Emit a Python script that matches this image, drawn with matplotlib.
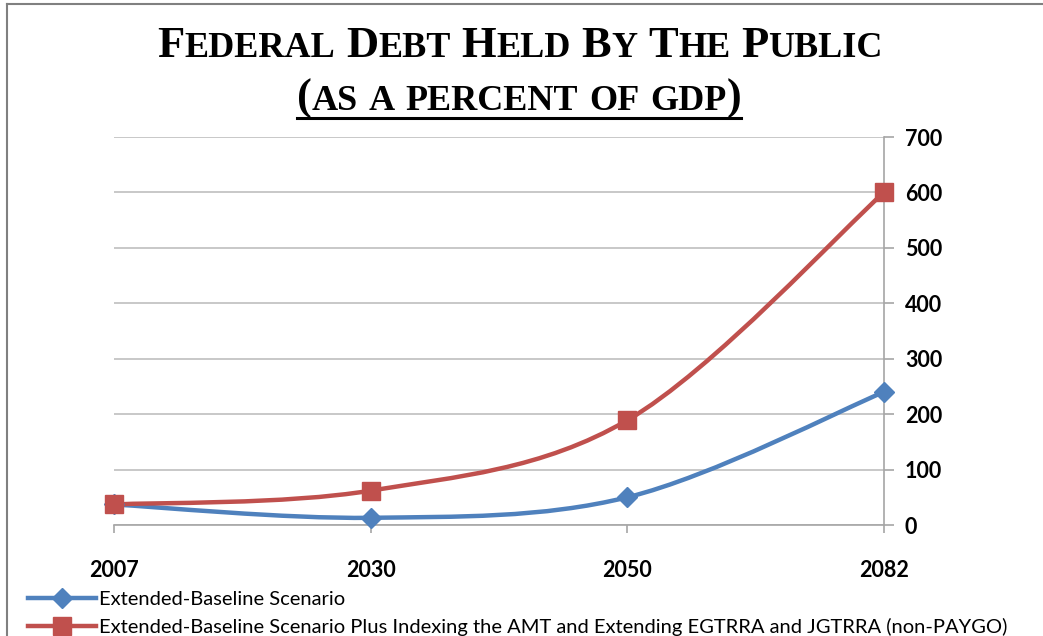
import matplotlib
matplotlib.use("Agg")
import matplotlib.pyplot as plt
from matplotlib.path import Path
from matplotlib.patches import PathPatch
from matplotlib.lines import Line2D

# ---- data ----
years = ["2007", "2030", "2050", "2082"]
baseline = [37, 13, 50, 240]
alternative = [37, 62, 189, 600]
series_names = [
    "Extended-Baseline Scenario",
    "Extended-Baseline Scenario Plus Indexing the AMT and Extending EGTRRA and JGTRRA (non-PAYGO)",
]
yticks = [0, 100, 200, 300, 400, 500, 600, 700]

BLUE = "#4F81BD"
RED = "#C0504D"
GRID = "#BFBFBF"
SANS = ["Lato", "DejaVu Sans"]
SERIF = ["Liberation Serif", "DejaVu Serif"]

fig = plt.figure(figsize=(10.43, 6.36), dpi=100)
W, H = 1043, 636
ax = fig.add_axes([114 / W, 1 - 525 / H, (884 - 114) / W, (525 - 137) / H])

x = list(range(len(years)))


def smooth_path(xs, ys):
    """Excel-like smoothed line as cubic Bezier segments (Catmull-Rom)."""
    n = len(xs)
    pts = list(zip(xs, ys))
    verts = [pts[0]]
    codes = [Path.MOVETO]
    for i in range(n - 1):
        p0 = pts[i - 1] if i > 0 else pts[i]
        p1 = pts[i]
        p2 = pts[i + 1]
        p3 = pts[i + 2] if i + 2 < n else pts[i + 1]
        c1 = (p1[0] + (p2[0] - p0[0]) / 6, p1[1] + (p2[1] - p0[1]) / 6)
        c2 = (p2[0] - (p3[0] - p1[0]) / 6, p2[1] - (p3[1] - p1[1]) / 6)
        verts += [c1, c2, p2]
        codes += [Path.CURVE4] * 3
    return Path(verts, codes)


for vals, col, mk, ms in [(baseline, BLUE, "D", 10), (alternative, RED, "s", 13)]:
    ax.add_patch(PathPatch(smooth_path(x, vals), fill=False, edgecolor=col,
                           lw=3.2, capstyle="round", joinstyle="round",
                           clip_on=False, zorder=3))
    ax.plot(x, vals, linestyle="none", marker=mk, ms=ms, color=col,
            markeredgecolor=col, clip_on=False, zorder=4)

ax.set_xlim(0, 3)
ax.set_ylim(0, 700)
ax.set_yticks(yticks)
ax.set_xticks(x)
ax.set_xticklabels(years)

for s in ["left", "top"]:
    ax.spines[s].set_visible(False)
for s in ["right", "bottom"]:
    ax.spines[s].set_color("#A6A6A6")
    ax.spines[s].set_linewidth(1.2)

ax.yaxis.tick_right()
ax.grid(axis="y", color=GRID, lw=1.2)
ax.set_axisbelow(True)
ax.tick_params(axis="y", direction="out", length=7, width=1.2, color="#A6A6A6",
               pad=8, labelsize=15.5)
ax.tick_params(axis="x", direction="out", length=6, width=1.2, color="#A6A6A6",
               pad=19, labelsize=15.5)
for lab in ax.get_xticklabels() + ax.get_yticklabels():
    lab.set_family(SANS)
    lab.set_fontweight("bold")

# ---- legend ----
handles = [
    Line2D([], [], color=BLUE, lw=3.2, marker="D", ms=10),
    Line2D([], [], color=RED, lw=3.2, marker="s", ms=13),
]
leg = fig.legend(handles, series_names, loc="upper left",
                 bbox_to_anchor=(28 / W, 1 - 591 / H),
                 frameon=False, handlelength=3.4, handletextpad=0.15,
                 labelspacing=0.48, borderpad=0, borderaxespad=0,
                 prop={"family": SANS, "size": 14.5})

# ---- frame lines ----
fig.add_artist(Line2D([7 / W, 1], [1 - 4 / H, 1 - 4 / H], color="#808080", lw=1.5))
fig.add_artist(Line2D([7 / W, 7 / W], [0, 1 - 4 / H], color="#808080", lw=1.5))

# ---- small caps title ----
renderer = fig.canvas.get_renderer()


def smallcaps(parts, xc, yb, gap_px):
    objs = []
    total = 0
    for s, sz in parts:
        if s == " ":
            objs.append((None, gap_px))
            total += gap_px
            continue
        t = fig.text(0, yb, s, fontsize=sz, family=SERIF, fontweight="bold",
                     ha="left", va="baseline")
        w = t.get_window_extent(renderer).width
        objs.append((t, w))
        total += w
    cur = xc - total / 2
    for t, w in objs:
        if t is not None:
            t.set_x(cur / W)
        cur += w
    return xc - total / 2, xc + total / 2


BIG, SMALL = 32, 26
line1 = [("F", BIG), ("EDERAL", SMALL), (" ", 0), ("D", BIG), ("EBT", SMALL), (" ", 0),
         ("H", BIG), ("ELD", SMALL), (" ", 0), ("B", BIG), ("Y", SMALL), (" ", 0),
         ("T", BIG), ("HE", SMALL), (" ", 0), ("P", BIG), ("UBLIC", SMALL)]
smallcaps(line1, 520, 1 - 57 / H, 11)

line2 = [("(", BIG), ("AS", SMALL), (" ", 0), ("A", SMALL), (" ", 0), ("PERCENT", SMALL),
         (" ", 0), ("OF", SMALL), (" ", 0), ("GDP", SMALL), (")", BIG)]
x0, x1 = smallcaps(line2, 519, 1 - 110 / H, 11)
fig.add_artist(Line2D([x0 / W, x1 / W], [1 - 118 / H, 1 - 118 / H], color="black", lw=2.2))

fig.savefig("out.png", dpi=100)
